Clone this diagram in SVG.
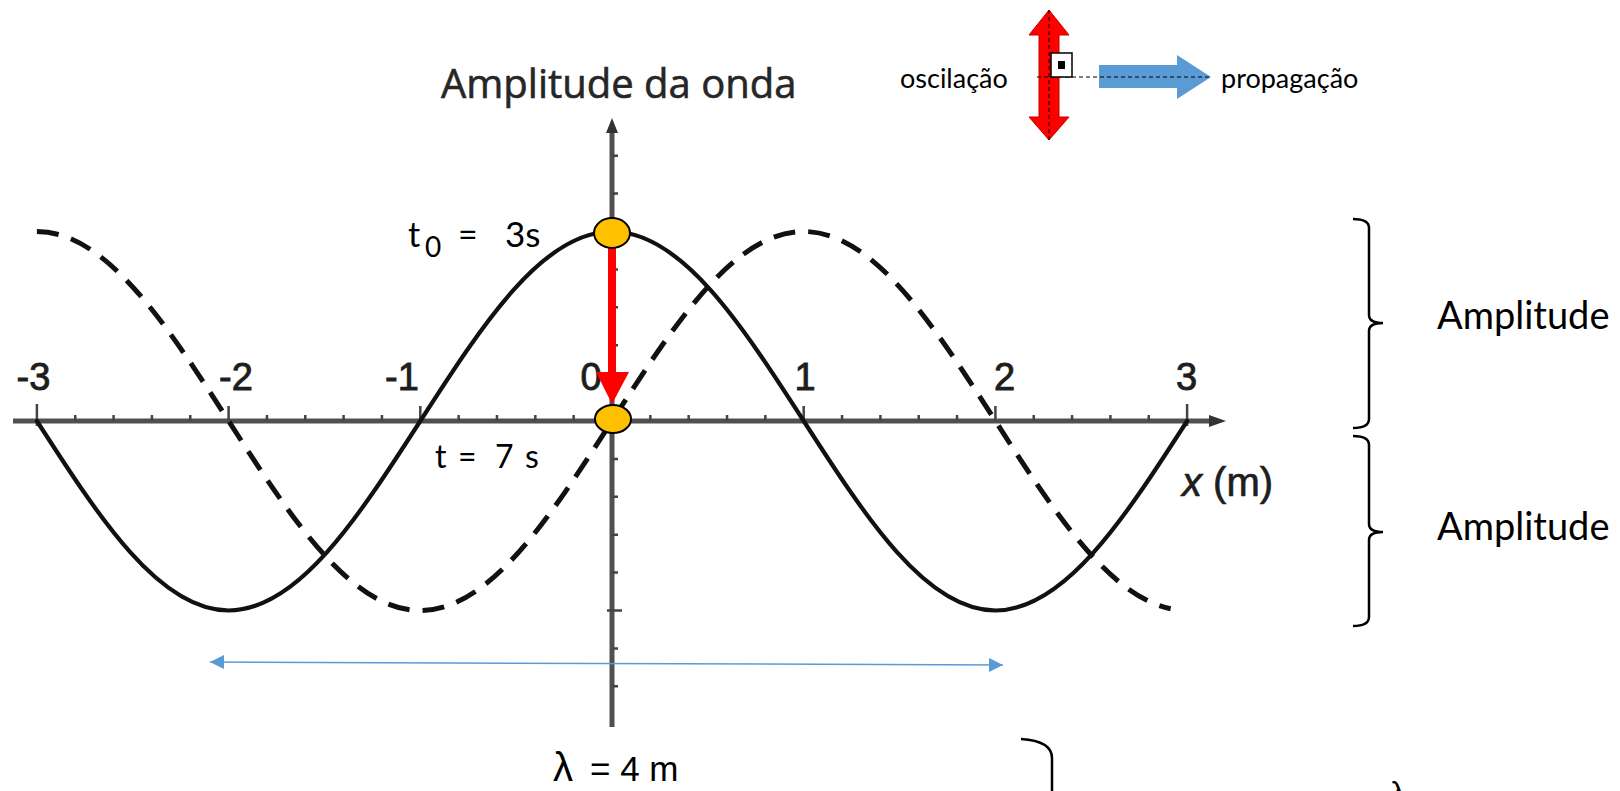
<svg xmlns="http://www.w3.org/2000/svg" width="1620" height="791" viewBox="0 0 1620 791">
<defs>
<style>
.axis{stroke:#505050;stroke-width:5;fill:none}
.tick{stroke:#444;stroke-width:2.5;fill:none}
.wave{fill:none;stroke:#111;stroke-width:4.2;stroke-linecap:round}
.dash{fill:none;stroke:#111;stroke-width:5;stroke-dasharray:22 13}
.num{font-family:"Liberation Sans",Arial,sans-serif;font-size:38px;fill:#1e1e1e;stroke:#1e1e1e;stroke-width:0.9px;text-anchor:middle}
.cal{font-family:Lato,"Open Sans",sans-serif;fill:#000}
.brace{fill:none;stroke:#000;stroke-width:2.5}
.dot{fill:#FFC000;stroke:#000;stroke-width:2}
</style>
<marker id="blueHead" viewBox="0 0 10 10" refX="10" refY="5" markerWidth="14" markerHeight="14" markerUnits="userSpaceOnUse" orient="auto-start-reverse"><path d="M0,0 L10,5 L0,10 z" fill="#5B9BD5"/></marker>
</defs>
<rect width="1620" height="791" fill="#fff"/>

<g id="axes">
<line class="axis" x1="13" y1="421" x2="1212" y2="421"/>
<polygon points="1209,415 1226,421 1209,427" fill="#333"/>
<line class="axis" x1="612" y1="130" x2="612" y2="727"/>
<polygon points="606,133 612,118 618,133" fill="#333"/>
<path class="tick" d="M36.9 404v22M75.24 415v6M113.58 415v6M151.92 415v6M190.26 415v6M228.6 406v15M266.94 415v6M305.28 415v6M343.62 415v6M381.96 415v6M420.3 406v15M458.64 415v6M496.98 415v6M535.32 415v6M573.66 415v6M650.34 415v6M688.68 415v6M727.02 415v6M765.36 415v6M803.7 406v15M842.04 415v6M880.38 415v6M918.72 415v6M957.06 415v6M995.4 406v15M1033.74 415v6M1072.08 415v6M1110.42 415v6M1148.76 415v6M1187.1 404v22"/>
<path class="tick" d="M612 155.7h6M612 193.6h6M607 231.5h14M612 269.4h6M612 307.3h6M612 345.2h6M612 383.1h6M612 458.9h6M612 496.8h6M612 534.7h6M612 572.6h6M607 610.5h15M612 648.4h6M612 686.3h6"/>
</g>

<g id="axis-labels">
<text class="num" x="33.5" y="390">-3</text>
<text class="num" x="236" y="390">-2</text>
<text class="num" x="402" y="390">-1</text>
<text class="num" x="591" y="390">0</text>
<text class="num" x="805" y="390">1</text>
<text class="num" x="1004.5" y="390">2</text>
<text class="num" x="1186.5" y="390">3</text>
<text x="1182" y="496" font-family="Liberation Sans,Arial,sans-serif" font-size="40" fill="#1e1e1e" stroke="#1e1e1e" stroke-width="0.7"><tspan font-style="italic">x</tspan> (m)</text>
<text x="441" y="98" font-family="'Open Sans',sans-serif" font-size="40" fill="#262626" stroke="#262626" stroke-width="0.6">Amplitude da onda</text>
</g>

<g id="wave-solid">
<path class="wave" d="M36.9 421C99.42 518.08 159.22 610.5 228.6 610.5C297.97 610.5 357.79 518.08 420.3 421C482.82 323.92 542.62 231.5 612 231.5C681.37 231.5 741.19 323.92 803.7 421C866.22 518.08 926.02 610.5 995.4 610.5C1064.77 610.5 1124.59 518.08 1187.1 421"/>
</g>
<g id="wave-dashed">
<path class="dash" d="M36.9 231.5C106.27 231.5 166.09 323.92 228.6 421C291.12 518.08 350.92 610.5 420.3 610.5C489.67 610.5 549.49 518.08 612 421C674.52 323.92 734.32 231.5 803.7 231.5C873.07 231.5 932.89 323.92 995.4 421C1052.92 510.31 1108.14 595.69 1170.63 608.77"/>
</g>

<g id="connectors">
<line x1="612" y1="246" x2="612" y2="374" stroke="#FF0000" stroke-width="8"/>
<polygon points="596,372 629,372 612,404" fill="#FF0000"/>
<line x1="210" y1="662" x2="1003" y2="665" stroke="#5B9BD5" stroke-width="1.5" marker-start="url(#blueHead)" marker-end="url(#blueHead)"/>
</g>

<g id="point-t0">
<ellipse class="dot" cx="612" cy="233" rx="18" ry="15"/>
<text class="cal" x="408" y="247" font-size="34">t</text>
<text class="cal" x="425" y="257" font-size="28">0</text>
<text class="cal" x="458" y="247" font-size="34">=</text>
<text class="cal" x="505" y="247" font-size="35">3s</text>
</g>
<g id="point-t">
<ellipse class="dot" cx="613" cy="419" rx="18" ry="14"/>
<text class="cal" x="435" y="468" font-size="32">t</text>
<text class="cal" x="458" y="468" font-size="32">=</text>
<text class="cal" x="495" y="468" font-size="32">7</text>
<text class="cal" x="525" y="468" font-size="32">s</text>
</g>

<g id="amplitude-top">
<path class="brace" d="M1353 219Q1369 219 1369 228V315Q1369 323 1383 323Q1369 323 1369 331V419Q1369 428 1353 428"/>
<text class="cal" x="1437" y="329" font-size="38">Amplitude</text>
</g>
<g id="amplitude-bottom">
<path class="brace" d="M1353 436Q1369 436 1369 445V524Q1369 532 1383 532Q1369 532 1369 540V617Q1369 626 1353 626"/>
<text class="cal" x="1437" y="540" font-size="38">Amplitude</text>
</g>

<g id="wavelength">
<text x="553" y="781" font-family="Liberation Sans,Arial,sans-serif" fill="#000"><tspan font-size="40">λ</tspan><tspan font-size="35" x="590">= 4 m</tspan></text>
<path class="brace" stroke-width="2" d="M1021 739Q1052 741 1052 758V795"/>
<text x="1390" y="804" font-family="Liberation Sans,Arial,sans-serif" font-size="32" fill="#000">λ</text>
</g>

<g id="legend">
<polygon points="1049,10 1069,35 1059,35 1059,117 1069,117 1049,140 1029,117 1039,117 1039,35 1029,35" fill="#FF0000" stroke="#C00000" stroke-width="1"/>
<polygon points="1099,65 1177,65 1177,55 1211,77 1177,99 1177,88 1099,88" fill="#5B9BD5"/>
<line x1="1049" y1="10" x2="1049" y2="140" stroke="#000" stroke-width="1" stroke-dasharray="4 3"/>
<line x1="1037" y1="77" x2="1211" y2="77" stroke="#000" stroke-width="1" stroke-dasharray="4 3"/>
<rect x="1051" y="53" width="21" height="24" fill="#fff" stroke="#000" stroke-width="1.5"/>
<rect x="1058" y="61" width="7" height="8" fill="#000"/>
<text class="cal" x="900" y="88" font-size="27">oscilação</text>
<text class="cal" x="1221" y="88" font-size="27">propagação</text>
</g>
</svg>
